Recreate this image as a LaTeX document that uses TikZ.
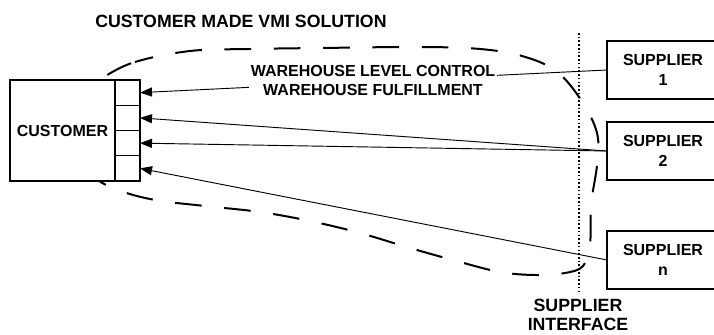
\documentclass[tikz,border=0pt]{standalone}
\usepackage{fontspec}
\setmainfont{Liberation Sans}
\usetikzlibrary{arrows.meta,positioning}

\begin{document}
\begin{tikzpicture}[x=0.75pt,y=-0.75pt,
    font=\bfseries\fontsize{12}{15}\selectfont,
    box/.style={draw, line width=0.8pt, fill=white, inner sep=0pt, outer sep=0pt, align=center},
    cell/.style={box, minimum width=18.75pt, minimum height=18.94pt},
    supbox/.style={box, minimum width=84pt, minimum height=43.5pt},
    arr/.style={line width=0.7pt, -{Triangle[length=9pt,width=6.8pt]}},
    bigtext/.style={font=\bfseries\fontsize{13.3}{15}\selectfont, inner sep=0pt, align=center}]
  \clip (0,0) rectangle (714,335);

  % title
  \node[bigtext, anchor=west] (title) at (95,21) {CUSTOMER MADE VMI SOLUTION};

  % vmi boundary
  \draw[line width=1.5pt, dash pattern=on 20pt off 17pt, dash phase=6pt]
    plot[smooth cycle, tension=0.6] coordinates {(102,78) (135,62) (190,51) (250,49) (320,48)
      (420,47) (480,49) (522,56) (556,71) (581,100) (597,133) (597,165) (591,205) (590,245)
      (583,266) (565,273) (535,275) (500,272) (460,262) (410,248) (360,233) (310,221)
      (260,212) (205,206) (155,200) (118,190) (92,176) (68,150) (64,118) (78,94)};

  % supplier interface
  \coordinate (ifctop) at (579,33);
  \coordinate (ifcbot) at (579,292);
  \draw[line width=1.2pt, dash pattern=on 1.2pt off 1.6pt] (ifctop) -- (ifcbot);
  \node[bigtext] (ifclabel) at (578,315) {SUPPLIER\\[-0.4pt]INTERFACE};

  % customer
  \node[box, minimum width=78.75pt, minimum height=75.75pt] (cust) at (62.5,130.5) {CUSTOMER};
  \node[cell, anchor=north west] (c1) at (cust.north east) {};
  \node[cell, below=0pt of c1] (c2) {};
  \node[cell, below=0pt of c2] (c3) {};
  \node[cell, below=0pt of c3] (c4) {};

  % suppliers
  \node[supbox, anchor=west] (sup1) at (607,70) {SUPPLIER\\1};
  \node[supbox, below=17.25pt of sup1] (sup2) {SUPPLIER\\2};
  \node[supbox, below=38.25pt of sup2] (supn) {SUPPLIER\\n};

  \draw[arr] (sup1.west) -- (c1.east);
  \draw[arr] (sup2.west) -- (c2.east);
  \draw[arr] (sup2.west) -- (c3.east);
  \draw[arr] (supn.west) -- (c4.east);

  \node[fill=white, inner sep=1pt, align=center, font=\bfseries\fontsize{12}{14.25}\selectfont] (whlabel) at (373,80.5)
    {WAREHOUSE LEVEL CONTROL\\WAREHOUSE FULFILLMENT};
\end{tikzpicture}
\end{document}
